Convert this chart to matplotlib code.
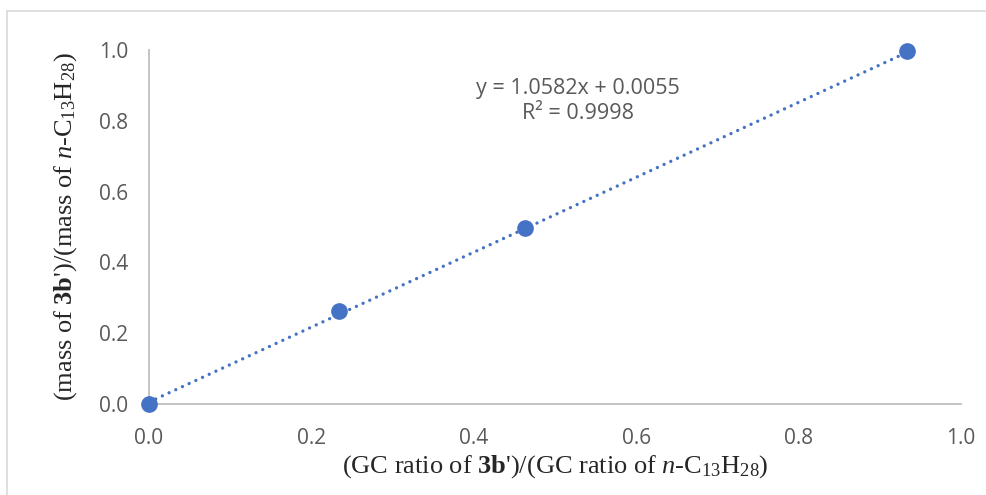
import matplotlib
matplotlib.use("Agg")
import matplotlib.pyplot as plt
import numpy as np
from matplotlib.lines import Line2D

# Calibration data
gc_ratio = [0.0, 0.234, 0.463, 0.933]
mass_ratio = [0.0, 0.263, 0.497, 0.997]

# Linear trendline coefficients
slope = 1.0582
intercept = 0.0055
r_squared = 0.9998

x_ticks = [0.0, 0.2, 0.4, 0.6, 0.8, 1.0]
y_ticks = [0.0, 0.2, 0.4, 0.6, 0.8, 1.0]

blue = "#4472C4"
tick_gray = "#595959"
axis_gray = "#BFBFBF"

plt.rcParams["mathtext.fontset"] = "custom"
plt.rcParams["mathtext.rm"] = "Liberation Serif"
plt.rcParams["mathtext.it"] = "Liberation Serif:italic"
plt.rcParams["mathtext.bf"] = "Liberation Serif:bold"

W, H = 987, 495
fig = plt.figure(figsize=(W / 100, H / 100), dpi=100)
ax = fig.add_axes([149 / W, 1 - 404 / H, 812 / W, 354 / H])

# Trendline over the data range
xt = np.array([min(gc_ratio), max(gc_ratio)])
ax.plot(xt, slope * xt + intercept, color=blue, linewidth=2.4,
        linestyle=(0, (0.01, 2.2)), dash_capstyle="round", zorder=2)

ax.plot(gc_ratio, mass_ratio, linestyle="none", marker="o", markersize=11,
        color=blue, zorder=3, clip_on=False)

ax.set_xlim(0, 1)
ax.set_ylim(0, 1)
ax.set_xticks(x_ticks)
ax.set_yticks(y_ticks)
ax.set_xticklabels([f"{v:.1f}" for v in x_ticks])
ax.set_yticklabels([f"{v:.1f}" for v in y_ticks])
ax.tick_params(axis="y", length=0, labelsize=15, labelcolor=tick_gray, pad=15)
ax.tick_params(axis="x", length=0, labelsize=15, labelcolor=tick_gray, pad=17)
for lab in ax.get_xticklabels() + ax.get_yticklabels():
    lab.set_fontfamily("Open Sans")

for side in ("top", "right"):
    ax.spines[side].set_visible(False)
for side in ("left", "bottom"):
    ax.spines[side].set_color(axis_gray)
    ax.spines[side].set_linewidth(1.3)

ax.set_xlabel(r"(GC ratio of $\mathbf{3b}$')/(GC ratio of $\mathit{n}$-C$_{13}$H$_{28}$)",
              fontsize=19, fontfamily="Liberation Serif", color="#262626", labelpad=3)
ax.set_ylabel(r"(mass of $\mathbf{3b}$')/(mass of $\mathit{n}$-C$_{13}$H$_{28}$)",
              fontsize=19, fontfamily="Liberation Serif", color="#262626", labelpad=14)

ax.text(0.528, 0.855, f"y = {slope:.4f}x + {intercept:.4f}\nR² = {r_squared:.4f}",
        ha="center", va="center", multialignment="center", fontsize=15.5,
        fontfamily="Open Sans", color=tick_gray, linespacing=1.25)

# Chart area frame (left and top edges visible)
fig.lines.append(Line2D([7 / W, 7 / W], [0, 1 - 11 / H], transform=fig.transFigure,
                        color="#D9D9D9", linewidth=1.2))
fig.lines.append(Line2D([7 / W, 1], [1 - 11 / H, 1 - 11 / H], transform=fig.transFigure,
                        color="#D9D9D9", linewidth=1.2))

fig.savefig("out.png", dpi=100, facecolor="white")
